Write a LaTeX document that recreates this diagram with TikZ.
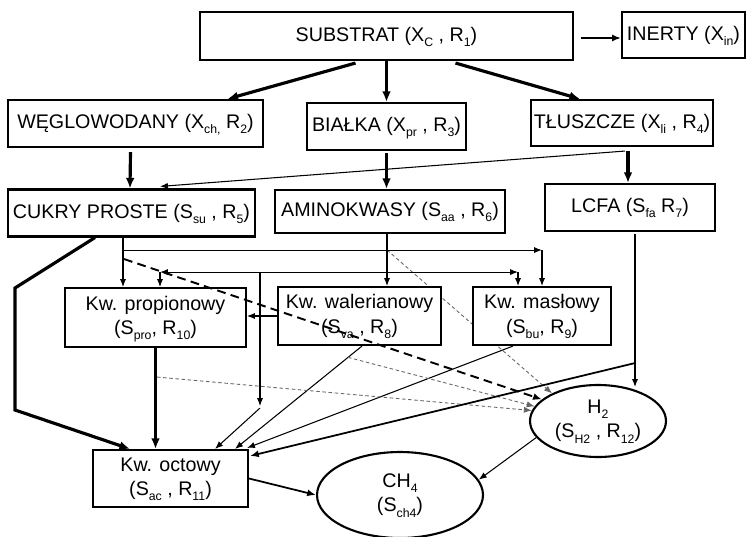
\documentclass[tikz,border=0pt]{standalone}
\usepackage{fontspec}
\setmainfont{Liberation Sans}
\usetikzlibrary{arrows.meta,shapes.geometric,calc,backgrounds}
\newcommand{\sub}[1]{\smash{\raisebox{-0.5ex}{\fontsize{7}{8}\selectfont #1}}}

\begin{document}
\begin{tikzpicture}[x=0.02cm, y=-0.02cm,
	every node/.style={font=\fontsize{11.2}{13.8}\selectfont, align=center, inner sep=0pt},
	box/.style={draw, line width=1.2pt, fill=white},
	oval/.style={ellipse, draw, line width=1.2pt, fill=white},
	heavy/.style={line width=1.8pt, -{Latex[length=6pt,width=5pt]}},
	mid/.style={line width=1pt, -{Latex[length=5pt,width=4pt]}},
	plain/.style={line width=0.6pt, -{Latex[length=4.5pt,width=3.5pt]}},
	dots/.style={plain, black!60, line width=0.5pt, dash pattern=on 2pt off 1.5pt},
	dashes/.style={line width=1.1pt, dash pattern=on 5pt off 3pt, -{Latex[length=5pt,width=4pt]}}]
	\useasboundingbox (0,0) rectangle (750,537);
	% boxes
	\node[box, minimum width=7.46cm, minimum height=0.96cm] (subs) at (386.5,36) {SUBSTRAT (X\sub{C} , R\sub{1})};
	\node[box, minimum width=2.46cm, minimum height=0.92cm] (inert) at (683.5,35) {INERTY (X\sub{in})};
	\node[box, minimum width=5.10cm, minimum height=0.94cm] (wegl) at (135.5,123.5) {WĘGLOWODANY (X\sub{ch,} R\sub{2})};
	\node[box, minimum width=3.18cm, minimum height=0.94cm] (bial) at (386.5,126.5) {BIAŁKA (X\sub{pr} , R\sub{3})};
	\node[box, minimum width=3.64cm, minimum height=0.92cm] (tlus) at (622,123) {TŁUSZCZE (X\sub{li} , R\sub{4})};
	\node[box, minimum width=4.94cm, minimum height=0.94cm] (cukr) at (131.5,213) {CUKRY PROSTE (S\sub{su} , R\sub{5})};
	\node[box, minimum width=4.60cm, minimum height=0.86cm] (amin) at (390,211.5) {AMINOKWASY (S\sub{aa} , R\sub{6})};
	\node[box, minimum width=3.40cm, minimum height=0.94cm] (lcfa) at (630,207.5) {LCFA (S\sub{fa} R\sub{7})};
	\node[box, minimum width=3.62cm, minimum height=1.18cm] (prop) at (155.5,317.5) {Kw. propionowy\\(S\sub{pro}, R\sub{10})};
	\node[box, minimum width=3.26cm, minimum height=1.16cm] (wale) at (359.5,316) {Kw. walerianowy\\(S\sub{va} , R\sub{8})};
	\node[box, minimum width=2.76cm, minimum height=1.16cm] (masl) at (542,316) {Kw. masłowy\\(S\sub{bu}, R\sub{9})};
	\node[box, minimum width=3.10cm, minimum height=1.14cm] (octo) at (170.5,478.5) {Kw. octowy\\(S\sub{ac} , R\sub{11})};
	\node[oval, minimum width=2.72cm, minimum height=1.44cm] (h2) at (598,421) {H\sub{2}\\(S\sub{H2} , R\sub{12})};
	\node[oval, minimum width=3.32cm, minimum height=1.72cm] (ch4) at (400,495) {CH\sub{4}\\(S\sub{ch4})};
	% junctions
	\coordinate (cs) at ($(cukr.south)+(-8.5,0)$);
	\coordinate (cj) at ($(cs)+(0,12.5)$);
	\coordinate (cr) at (cj -| masl.north);
	\coordinate (ax) at ($(amin.south)+(-3,0)$);
	\coordinate (aj) at ($(ax)+(0,38)$);
	\coordinate (al) at ($(prop.north |- aj)+(4.5,0)$);
	\coordinate (ar) at ($(masl.north |- aj)+(-24,0)$);
	\coordinate (av) at ($(octo.north |- aj)+(89.5,0)$);
	\coordinate (avb) at ($(av)+(0,134)$);
	\coordinate (k1) at (15,288);
	\coordinate (k2) at (15,410);
	\coordinate (lj) at ($(lcfa.south)+(5,131)$);
	\coordinate (w1) at ($(wale.south)+(2.5,0)$);
	\coordinate (w2) at ($(octo.north)+(64.5,0)$);
	\begin{scope}[on background layer]
		\draw[dots] (ax |- cj) -- (h2.149);
	\end{scope}
	% substrat
	\draw[heavy] ($(subs.south)+(-31,2)$) -- ($(wegl.north)+(92,0)$);
	\draw[heavy] (subs.south) -- (bial.north);
	\draw[heavy] ($(subs.south)+(69,2)$) -- ($(tlus.north)+(-42,0)$);
	\draw[mid] ($(subs.east)+(7,2)$) -- ($(inert.west)+(0,3)$);
	\draw[heavy] ($(wegl.south)+(-5,4)$) -- ($(cukr.north)+(-1.5,0)$);
	\draw[heavy] ($(bial.south)+(0,2)$) -- (bial.south |- amin.north);
	\draw[heavy] ($(tlus.south)+(6,4)$) -- ($(lcfa.north)+(-2,0)$);
	\draw[plain] ($(tlus.south)+(3,4)$) -- ($(cukr.north)+(28.5,-2)$);
	% cukry
	\draw[line width=0.6pt] (cs) -- (cj);
	\draw[plain] (cj) -- (cj |- prop.north);
	\draw[plain] (cj) -- (cr);
	\draw[plain] (cr) -- (masl.north);
	\draw[heavy] ($(cukr.south)+(-36.5,0)$) -- (k1) -- (k2) -- ($(octo.north)+(-40.5,0)$);
	\draw[dashes] ($(cj)+(1,9)$) -- (h2.159);
	% aminokwasy
	\draw[plain] (ax) -- (ax |- wale.north);
	\draw[plain] (aj) -- (al);
	\draw[plain] (al) -- (al |- prop.north);
	\draw[plain] (aj) -- (ar);
	\draw[plain] (ar) -- (ar |- masl.north);
	\draw[plain] (av) -- (avb);
	\draw[plain] ($(avb)+(0,2)$) -- ($(octo.north)+(44.5,0)$);
	% kwasy
	\draw[plain] (wale.west) -- (wale.west -| prop.east);
	\draw[heavy] (prop.south) -- (prop.south |- octo.north);
	\draw[plain] (w1) -- (w2);
	\draw[plain] ($(masl.south)+(-29,0)$) -- ($(octo.north east)+(-2,-1)$);
	\draw[dots] ($(prop.south)+(1.5,29)$) -- (h2.171);
	\draw[dots] ($(w1)!0.11!(w2)$) -- (h2.167);
	% lcfa
	\draw[plain] ($(lcfa.south)+(5,2)$) -- ($(lcfa.south |- h2.north)+(5,3)$);
	\draw[mid] (lj) -- ($(octo.north east)+(1,7)$);
	% h2, ch4
	\draw[plain] (h2.195) -- (ch4.11);
	\draw[mid] (octo.east) -- (ch4.west);
\end{tikzpicture}
\end{document}
